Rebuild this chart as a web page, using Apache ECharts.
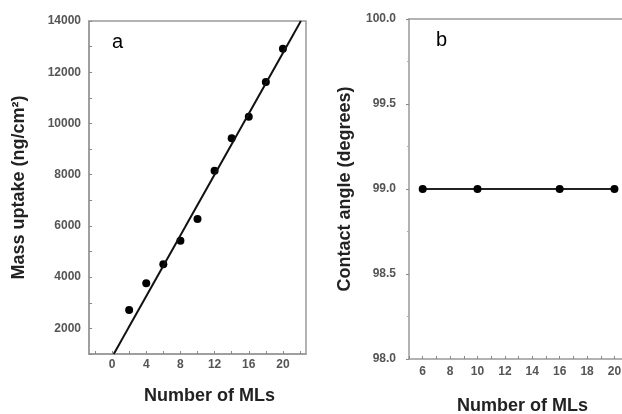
<!DOCTYPE html>
<html>
<head>
<meta charset="utf-8">
<script src="https://cdn.jsdelivr.net/npm/echarts@6/dist/echarts.min.js"></script>
<style>
  html, body { margin: 0; padding: 0; background: #fff; }
  #chart { width: 622px; height: 414px; }
</style>
</head>
<body>
<div id="chart"></div>
<script>
// panel a - mass uptake
var layersA = [2, 4, 6, 8, 10, 12, 14, 16, 18, 20];
var massA = [2720, 3760, 4500, 5420, 6270, 8150, 9420, 10260, 11620, 12920];
var fitA = [[0.2, 1000], [22.1, 14000]];
var xLabelsA = [0, 4, 8, 12, 16, 20];
var xTicksA = [-2, 0, 2, 4, 6, 8, 10, 12, 14, 16, 18, 20, 22];
var yLabelsA = [2000, 4000, 6000, 8000, 10000, 12000, 14000];
var yTicksA = [1000, 2000, 3000, 4000, 5000, 6000, 7000, 8000, 9000, 10000, 11000, 12000, 13000, 14000];

// panel b - contact angle
var layersB = [6, 10, 16, 20];
var angleB = [99.0, 99.0, 99.0, 99.0];
var xLabelsB = [6, 8, 10, 12, 14, 16, 18, 20];
var xTicksB = [5, 6, 7, 8, 9, 10, 11, 12, 13, 14, 15, 16, 17, 18, 19, 20];

var font = '"Liberation Sans", Arial, sans-serif';
var boxColor = '#999';

function pairs(xs, ys) {
    var out = [];
    for (var i = 0; i < xs.length; i++) out.push([xs[i], ys[i]]);
    return out;
}

var tickLbl = { color: '#555', fontSize: 12, fontWeight: 'bold', fontFamily: font };
var nameStyle = { color: '#222', fontSize: 18, fontWeight: 'bold', fontFamily: font };
var plainNum = function (v) { return String(v); };
var lineA = { show: true, onZero: false, lineStyle: { color: boxColor, width: 1.5 } };

var chart = echarts.init(document.getElementById('chart'), null, { renderer: 'canvas' });

var option = {
    backgroundColor: '#fff',
    animation: false,
    grid: [
        { left: 89, top: 21, width: 217, height: 333, show: true, borderColor: boxColor, borderWidth: 1.5,
          backgroundColor: 'transparent', outerBoundsMode: 'none' },
        // panel b runs off the right edge of the picture, so no right border
        { left: 409, top: 19, width: 213, height: 340, show: false, outerBoundsMode: 'none' }
    ],
    xAxis: [
        {
            gridIndex: 0, type: 'value', min: -2.7, max: 22.7,
            name: 'Number of MLs', nameLocation: 'middle', nameGap: 33,
            nameTextStyle: Object.assign({ padding: [0, 0, 0, 24] }, nameStyle),
            axisLine: lineA,
            axisTick: { show: true, inside: true, length: 3, customValues: xTicksA, lineStyle: { color: '#888' } },
            axisLabel: Object.assign({ customValues: xLabelsA, margin: 5, formatter: plainNum }, tickLbl),
            splitLine: { show: false }
        },
        {
            gridIndex: 1, type: 'value', min: 5, max: 20.55,
            name: 'Number of MLs', nameLocation: 'middle', nameGap: 38,
            nameTextStyle: Object.assign({ padding: [0, 0, 0, 14] }, nameStyle),
            axisLine: lineA,
            axisTick: { show: true, inside: true, length: 3, customValues: xTicksB, lineStyle: { color: '#888' } },
            axisLabel: Object.assign({ customValues: xLabelsB, margin: 7, formatter: plainNum }, tickLbl),
            splitLine: { show: false }
        },
        {
            // top border of panel b
            gridIndex: 1, type: 'value', min: 5, max: 20.55, position: 'top',
            axisLine: lineA, axisTick: { show: false }, axisLabel: { show: false }, splitLine: { show: false }
        }
    ],
    yAxis: [
        {
            gridIndex: 0, type: 'value', min: 1000, max: 14000,
            name: 'Mass uptake (ng/cm²)', nameLocation: 'middle', nameGap: 61, nameRotate: 90,
            nameTextStyle: nameStyle,
            axisLine: lineA,
            axisTick: { show: true, inside: true, length: 3, customValues: yTicksA, lineStyle: { color: '#888' } },
            axisLabel: Object.assign({ customValues: yLabelsA, margin: 8, formatter: plainNum }, tickLbl),
            splitLine: { show: false }
        },
        {
            gridIndex: 1, type: 'value', min: 98, max: 100, interval: 0.5,
            name: 'Contact angle (degrees)', nameLocation: 'middle', nameGap: 55, nameRotate: 90,
            nameTextStyle: nameStyle,
            axisLine: lineA,
            axisTick: { show: true, inside: false, length: 3, lineStyle: { color: '#888' } },
            minorTick: { show: true, splitNumber: 2, length: 2, lineStyle: { color: '#aaa' } },
            axisLabel: Object.assign({ margin: 13, formatter: function (v) { return v.toFixed(1); } }, tickLbl),
            splitLine: { show: false }
        }
    ],
    graphic: [
        { type: 'text', left: 112, top: 32, style: { text: 'a', fontSize: 20, fontFamily: font, fill: '#000' } },
        { type: 'text', left: 436, top: 30, style: { text: 'b', fontSize: 20, fontFamily: font, fill: '#000' } }
    ],
    series: [
        {
            type: 'line', xAxisIndex: 0, yAxisIndex: 0,
            data: fitA, showSymbol: false,
            lineStyle: { color: '#111', width: 2 }
        },
        {
            type: 'scatter', xAxisIndex: 0, yAxisIndex: 0,
            data: pairs(layersA, massA), symbolSize: 8,
            itemStyle: { color: '#000', opacity: 1 }
        },
        {
            type: 'line', xAxisIndex: 1, yAxisIndex: 1,
            data: pairs(layersB, angleB), symbol: 'circle', symbolSize: 8,
            lineStyle: { color: '#222', width: 2 },
            itemStyle: { color: '#000' }
        }
    ]
};

chart.setOption(option);
</script>
</body>
</html>
